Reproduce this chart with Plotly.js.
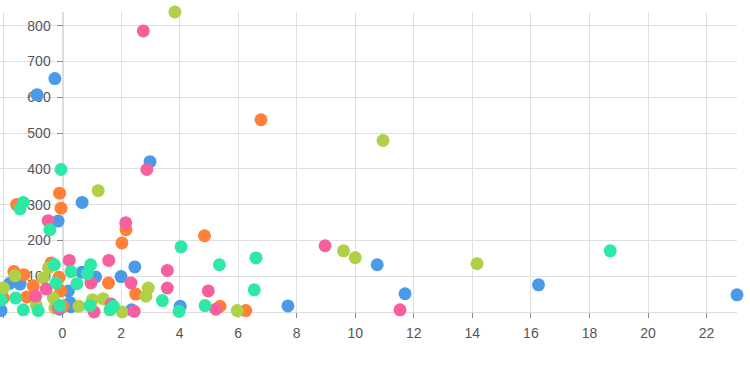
<!DOCTYPE html>
<html>
<head>
<meta charset="utf-8">
<script src="https://cdn.plot.ly/plotly-3.0.1.min.js"></script>
<style>
html,body{margin:0;padding:0;background:#fff;}
#chart{width:750px;height:375px;}
</style>
</head>
<body>
<div id="chart"></div>
<script>
// Series values
var blueX = [-0.26, -0.87, 2.99, 0.67, -0.15, 2.47, 2.0, 1.13, 0.66, 0.2, -2.1, 0.29, -1.45, 4.02, 7.7, 11.7, 10.75, 16.26, 23.04, -0.1, 2.36, -1.8, 0.26];
var blueY = [652, 607, 420, 306, 254, 126, 99, 98, 111, 59, 4, 15, 78, 16, 17, 51, 132, 76, 48, 8, 6, 80, 26];

var orangeX = [6.78, -0.1, -0.05, -1.57, 2.17, 2.03, 4.85, 1.57, 2.5, 5.38, 6.26, -1.66, -1.32, -0.12, -0.06, -1.0, -1.22, -2.02, -0.39, 0.02];
var orangeY = [537, 332, 290, 300, 230, 193, 213, 81, 50, 16, 4, 113, 104, 97, 59, 73, 42, 39, 137, 16];

var limeX = [3.84, 1.22, 10.95, 9.6, 10.0, 14.16, 2.93, 2.85, 5.97, 2.04, 0.56, 1.39, 1.02, -2.02, -1.62, -0.66, -0.48, -0.31, -0.26, -0.9];
var limeY = [838, 339, 479, 171, 152, 135, 67, 44, 4, 0, 16, 37, 34, 67, 101, 95, 123, 39, 11, 20];

var pinkX = [2.76, 2.88, 8.97, 2.16, -0.49, 0.23, 1.58, 3.58, 3.58, 2.34, 0.97, 4.98, 5.24, 2.45, 1.08, 1.66, 11.53, -0.92, -0.56, -0.14];
var pinkY = [785, 398, 185, 249, 255, 144, 144, 116, 67, 81, 81, 59, 8, 2, 0, 22, 6, 44, 64, 11];

var tealX = [-0.05, -1.34, -1.45, -0.43, 4.05, 5.36, 6.61, 6.55, 18.71, -0.28, 0.29, 0.96, 0.85, 0.49, -0.22, 3.41, 3.98, 4.87, 1.74, 0.94, -0.09, -0.83, -1.34, -1.6, -2.1, 1.62];
var tealY = [398, 306, 288, 230, 182, 132, 151, 62, 171, 132, 113, 132, 107, 79, 81, 32, 2, 18, 16, 18, 18, 4, 6, 39, 34, 6];

var seriesNames = ['A', 'B', 'C', 'D', 'E'];
var seriesColors = ['#4a9ae8', '#ff8036', '#b0d048', '#f85f9f', '#2ee9a6'];
var xs = [blueX, orangeX, limeX, pinkX, tealX];
var ys = [blueY, orangeY, limeY, pinkY, tealY];

var traces = xs.map(function (x, i) {
  return {
    type: 'scatter',
    mode: 'markers',
    name: seriesNames[i],
    x: x,
    y: ys[i],
    cliponaxis: false,
    hoverinfo: 'x+y',
    marker: { color: seriesColors[i], size: 13, line: { width: 0 } }
  };
});

var ml = 0, mr = 13;
var xMin = -2.135, xMax = 23.04;
var yAxisPos = (0 - xMin) / (xMax - xMin);

var layout = {
  width: 750,
  height: 375,
  margin: { l: ml, r: mr, t: 12, b: 63 },
  paper_bgcolor: '#ffffff',
  plot_bgcolor: '#ffffff',
  showlegend: false,
  font: { family: 'Liberation Sans, Arial, sans-serif', size: 14, color: '#555555' },
  xaxis: {
    range: [xMin, xMax],
    tick0: 0,
    dtick: 2,
    showgrid: true,
    gridcolor: '#e0e0e0',
    gridwidth: 1,
    zeroline: false,
    showline: true,
    linecolor: '#dddddd',
    linewidth: 1,
    ticks: 'outside',
    ticklen: 5,
    tickcolor: '#888888',
    ticklabelstandoff: 3,
    layer: 'below traces',
    tickfont: { size: 14, color: '#555555' }
  },
  yaxis: {
    range: [0, 838],
    tick0: 0,
    dtick: 100,
    anchor: 'free',
    position: yAxisPos,
    showgrid: true,
    gridcolor: '#e0e0e0',
    gridwidth: 1,
    zeroline: false,
    showline: true,
    linecolor: '#dddddd',
    linewidth: 1,
    ticks: 'outside',
    ticklen: 6,
    tickcolor: '#888888',
    ticklabelstandoff: 3,
    layer: 'below traces',
    tickfont: { size: 14, color: '#555555' },
    tickvals: [100, 200, 300, 400, 500, 600, 700, 800]
  }
};

Plotly.newPlot('chart', traces, layout, { displayModeBar: false, staticPlot: true });
</script>
</body>
</html>
